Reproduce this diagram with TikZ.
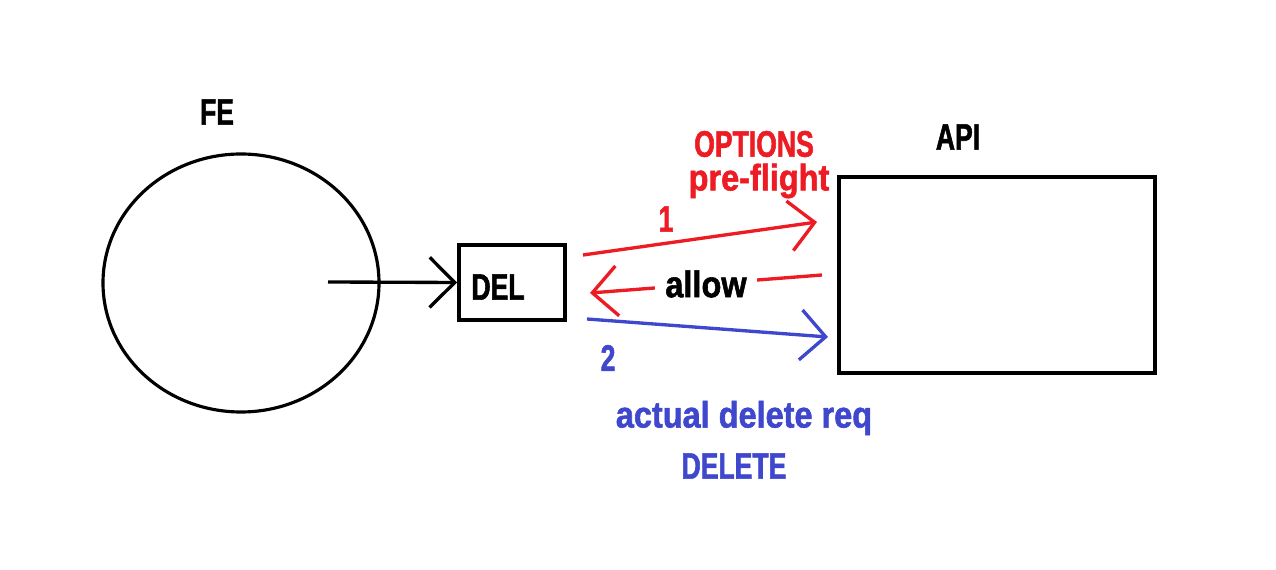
\documentclass[tikz,border=0pt]{standalone}
\usepackage{fontspec}
\setmainfont[FakeStretch=0.72,FakeBold=1.5]{Liberation Sans Bold}
\newfontfamily\lcfont[FakeStretch=0.88,FakeBold=1.5]{Liberation Sans Bold}
\usetikzlibrary{arrows.meta,shapes.geometric}
\definecolor{pred}{HTML}{ED1C24}
\definecolor{pblue}{HTML}{3F48CC}
\tikzset{
  lbl/.style={font=\fontsize{21}{24}\selectfont, inner sep=0pt, anchor=center},
  lcl/.style={font=\lcfont\fontsize{21}{24}\selectfont, inner sep=0pt, anchor=center},
  conn/.style={line width=1.9pt, -{Straight Barb[length=0.5cm,width=1.0cm,line width=1.9pt]}},
  boxs/.style={draw, line width=2.2pt, inner sep=0pt}
}
\begin{document}
\begin{tikzpicture}[x=0.02cm,y=-0.02cm]
\useasboundingbox (0,0) rectangle (1276,570);
% shapes
\node[ellipse, draw, line width=1.8pt, minimum width=276*0.02cm, minimum height=258*0.02cm, inner sep=0pt] (fe) at (241,283) {};
\node[boxs, minimum width=106*0.02cm, minimum height=75*0.02cm] (del) at (512,282.5) {};
\node[boxs, minimum width=316*0.02cm, minimum height=196*0.02cm] (api) at (997,275) {};
% labels
\node[lbl] (felbl) at (217,112) {FE};
\node[lbl] (dellbl) at (498,287) {DEL};
\node[lbl] (apilbl) at (958,137) {API};
\node[lbl, text=pred] (opt) at (754,144) {OPTIONS};
\node[lcl, text=pred] (pre) at (759,181) {pre-flight};
\node[lbl, text=pred] (one) at (666,219) {1};
\node[lbl, text=pblue] (two) at (608,358) {2};
\node[lcl, text=pblue] (act) at (744,418) {actual delete req};
\node[lbl, text=pblue] (dlt) at (734,466) {DELETE};
% connector endpoints
\coordinate (s0) at (328,282);
\coordinate (s1) at (583,255);
\coordinate (e1) at (817,222);
\coordinate (s2) at (822,275);
\coordinate (e2) at (590,293);
\coordinate (s3) at (587,319);
\coordinate (e3) at (828,337);
% connectors
\draw[conn] (s0) -- (del.west);
\draw[conn, pred] (s1) -- (e1);
\draw[conn, pred] (s2) -- node[lcl, text=black, fill=white, inner xsep=6pt, inner ysep=4pt] (allow) {allow} (e2);
\draw[conn, pblue] (s3) -- (e3);
\end{tikzpicture}
\end{document}
